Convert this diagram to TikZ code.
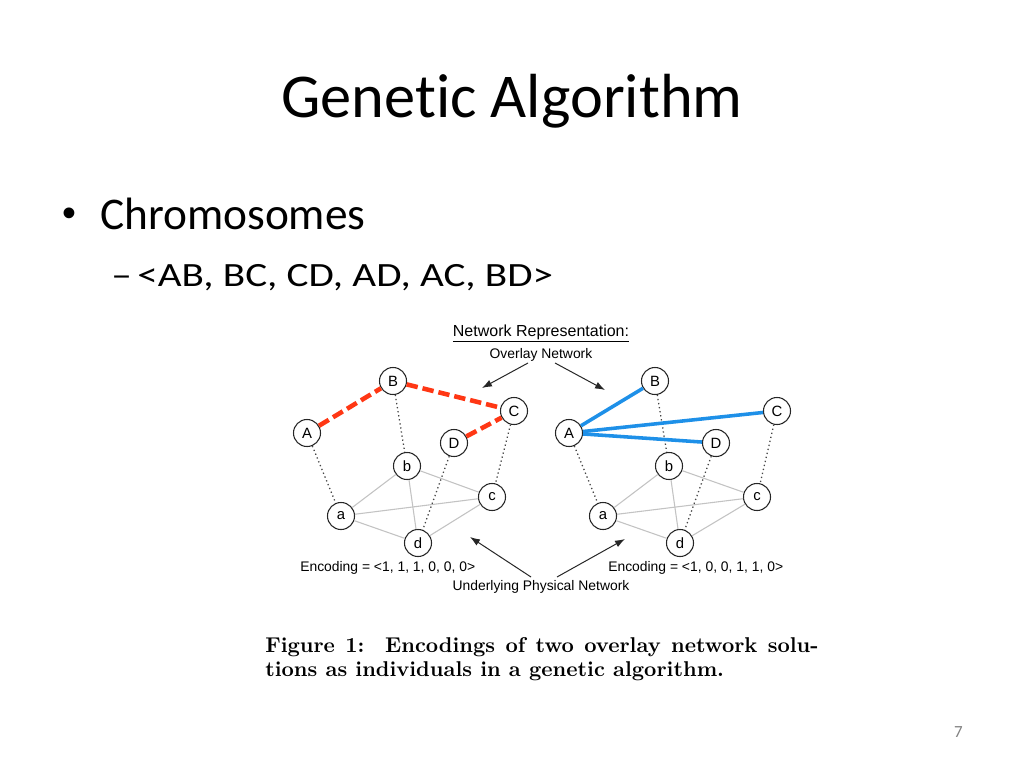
\documentclass[tikz,border=0pt]{standalone}
\usepackage{fontspec}
\newfontfamily\slidefont[RawFeature=-liga]{Carlito}
\newfontfamily\slidewide[RawFeature=-liga,FakeStretch=1.21]{Carlito}
\newfontfamily\figfont{Liberation Sans}
\newfontfamily\capbf{lmroman10-bold}[Extension=.otf]
\usetikzlibrary{arrows.meta}
\definecolor{redd}{RGB}{255,55,20}
\definecolor{bluee}{RGB}{30,144,232}
\definecolor{physgray}{RGB}{195,195,195}
\definecolor{dotgray}{RGB}{70,70,70}
\definecolor{pagegray}{RGB}{130,130,130}
\begin{document}
\begin{tikzpicture}[x=0.703125bp,y=-0.703125bp,
  vtx/.style={circle,draw=black!85,line width=0.75bp,fill=white,minimum size=19bp,inner sep=0pt,font=\figfont\fontsize{10.5}{10.5}\selectfont},
  phys/.style={draw=physgray,line width=0.75bp},
  mapline/.style={draw=dotgray,line width=0.9bp,dotted},
  reddash/.style={draw=redd,line width=3.2bp,dash pattern=on 8bp off 3.5bp},
  blueline/.style={draw=bluee,line width=2.5bp},
  arr/.style={-{Latex[length=7bp,width=5bp]},line width=0.7bp,black!85},
  lbl/.style={font=\figfont\fontsize{9.8}{11}\selectfont,inner sep=0pt},
  slide/.style={inner sep=0pt}
]
\useasboundingbox[fill=white] (0,0) rectangle (1024,768);

% slide text
\node[slide,anchor=base,font=\slidefont\fontsize{44}{53}\selectfont] (title) at (512,118) {Genetic Algorithm};
\node[slide,anchor=base west,font=\figfont\fontsize{28}{34}\selectfont] (bul) at (62,226) {•};
\node[slide,anchor=base west,font=\slidefont\fontsize{32}{38}\selectfont] (chrom) at (100,229) {Chromosomes};
\node[slide,anchor=base west,font=\slidewide\fontsize{24}{29}\selectfont] (dash) at (111,286) {–};
\node[slide,anchor=base west,font=\slidewide\fontsize{24}{29}\selectfont] (seq) at (137,286) {<AB, BC, CD, AD, AC, BD>};
\node[slide,anchor=base east,font=\slidefont\fontsize{12}{14}\selectfont,text=pagegray] (pnum) at (963,737) {7};

% figure labels
\node[lbl,anchor=base,font=\figfont\fontsize{11.3}{13}\selectfont] (netrep) at (541,336) {\underline{Network Representation:}};
\node[lbl,anchor=base] (overlay) at (541,358) {Overlay Network};
\node[lbl,anchor=base] (under) at (541,590) {Underlying Physical Network};
\node[lbl,anchor=base west] (encL) at (300,571) {Encoding = <1, 1, 1, 0, 0, 0>};
\node[lbl,anchor=base west] (encR) at (608,571) {Encoding = <1, 0, 0, 1, 1, 0>};

\coordinate (oL) at (528,363);
\coordinate (oLt) at (482,388);
\coordinate (oR) at (555,363);
\coordinate (oRt) at (605,390);
\coordinate (uL) at (531,577);
\coordinate (uLt) at (470,537);
\coordinate (uR) at (557,577);
\coordinate (uRt) at (625,539);
\draw[arr] (oL) -- (oLt);
\draw[arr] (oR) -- (oRt);
\draw[arr] (uL) -- (uLt);
\draw[arr] (uR) -- (uRt);

% left graph
\node[vtx] (LB) at (393,381) {B};
\node[vtx] (LC) at (514,411) {C};
\node[vtx] (LA) at (307,433) {A};
\node[vtx] (LD) at (454,443) {D};
\node[vtx] (Lb) at (407,466) {b};
\node[vtx] (Lc) at (492,497) {c};
\node[vtx] (La) at (341,516) {a};
\node[vtx] (Ld) at (418,543) {d};

\draw[phys] (La) -- (Lb);
\draw[phys] (La) -- (Lc);
\draw[phys] (La) -- (Ld);
\draw[phys] (Lb) -- (Lc);
\draw[phys] (Lb) -- (Ld);
\draw[phys] (Lc) -- (Ld);
\draw[mapline] (LA) -- (La);
\draw[mapline] (LB) -- (Lb);
\draw[mapline] (LC) -- (Lc);
\draw[mapline] (LD) -- (Ld);
\draw[reddash] (LA) -- (LB);
\draw[reddash] (LB) -- (LC);
\draw[reddash] (LD) -- (LC);

% right graph
\node[vtx] (RB) at (655,381) {B};
\node[vtx] (RC) at (777,411) {C};
\node[vtx] (RA) at (569,433) {A};
\node[vtx] (RD) at (716,443) {D};
\node[vtx] (Rb) at (669,466) {b};
\node[vtx] (Rc) at (757,497) {c};
\node[vtx] (Ra) at (603,516) {a};
\node[vtx] (Rd) at (680,543) {d};

\draw[phys] (Ra) -- (Rb);
\draw[phys] (Ra) -- (Rc);
\draw[phys] (Ra) -- (Rd);
\draw[phys] (Rb) -- (Rc);
\draw[phys] (Rb) -- (Rd);
\draw[phys] (Rc) -- (Rd);
\draw[mapline] (RA) -- (Ra);
\draw[mapline] (RB) -- (Rb);
\draw[mapline] (RC) -- (Rc);
\draw[mapline] (RD) -- (Rd);
\draw[blueline] (RA) -- (RB);
\draw[blueline] (RA) -- (RC);
\draw[blueline] (RA) -- (RD);

% caption
\node[slide,anchor=base west,font=\capbf\fontsize{15.1}{18}\selectfont] (cap1) at (265,652) {\makebox[389bp][s]{Figure 1:\ \ Encodings of two overlay network solu-}};
\node[slide,anchor=base west,font=\capbf\fontsize{15.1}{18}\selectfont] (cap2) at (265,676) {tions as individuals in a genetic algorithm.};
\end{tikzpicture}
\end{document}
